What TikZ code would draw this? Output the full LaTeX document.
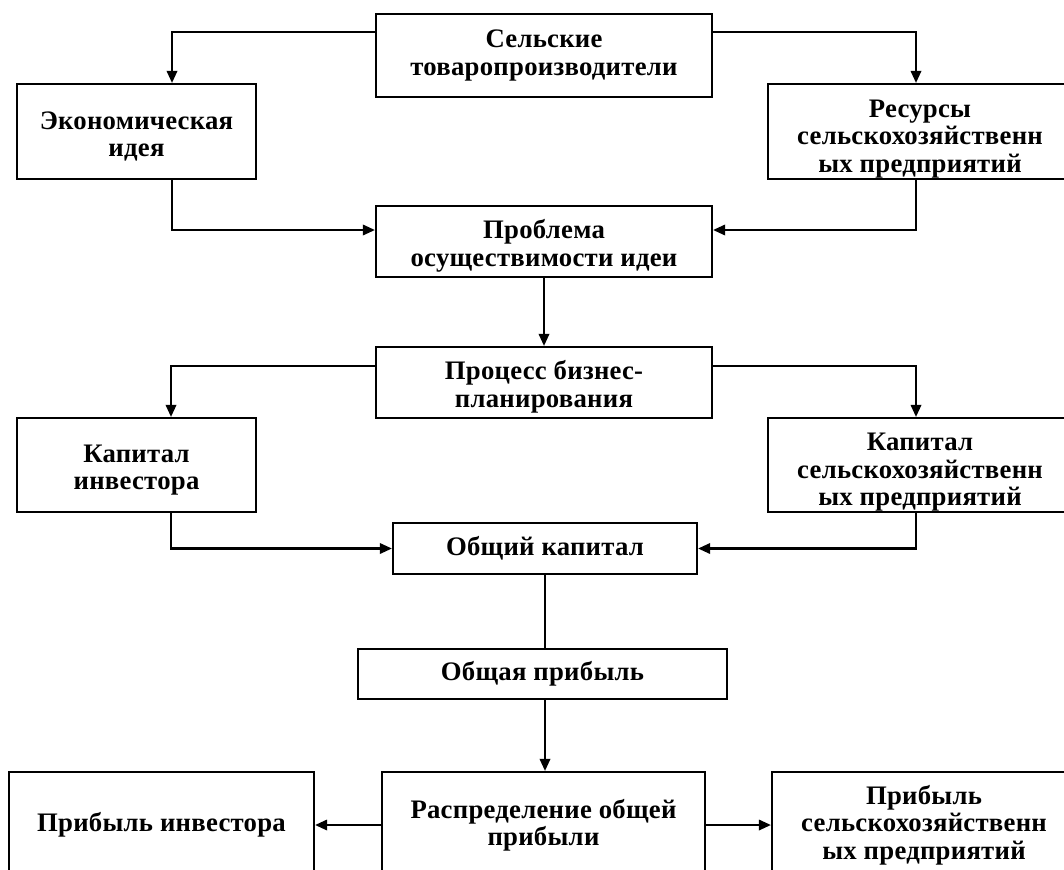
\documentclass[tikz,border=0pt]{standalone}
\usepackage{fontspec}
\setmainfont{Liberation Serif}[LetterSpace=1]
\usepackage{tikz}
\usetikzlibrary{positioning,calc,arrows.meta}

\begin{document}
\begin{tikzpicture}[x=0.025cm, y=-0.025cm,
    box/.style={draw, line width=1.5pt, align=center, inner sep=0pt,
        font=\bfseries\fontsize{19}{19.5}\selectfont},
    twoline/.style={text height=39pt},
    threeline/.style={text height=62pt},
    link/.style={line width=1.5pt},
    arr/.style={link, -{Triangle[length=0.3cm, width=0.26cm]}}]
    \clip (0,0) rectangle (1064,869);

    % first level
    \node[box, minimum width=8.4cm, minimum height=2.075cm] (farmers) at (544,55.5) {Сельские\\товаропроизводители};
    \node[box, twoline, minimum width=5.975cm, minimum height=2.375cm] (idea) at (136.5,131.5) {Экономическая\\идея};
    \node[box, threeline, minimum width=7.6cm, minimum height=2.375cm] (resources) at (920,131.5) {Ресурсы\\сельскохозяйственн\\ых предприятий};
    \node[box, twoline, minimum width=8.4cm, minimum height=1.775cm] (problem) at (544,241.5) {Проблема\\осуществимости идеи};

    % planning and capital
    \node[box, twoline, minimum width=8.4cm, minimum height=1.775cm] (planning) at (544,382.5) {Процесс бизнес-\\планирования};
    \node[box, twoline, minimum width=5.975cm, minimum height=2.35cm] (invcap) at (136.5,465) {Капитал\\инвестора};
    \node[box, threeline, minimum width=7.6cm, minimum height=2.35cm] (farmcap) at (920,465) {Капитал\\сельскохозяйственн\\ых предприятий};
    \node[box, minimum width=7.6cm, minimum height=1.275cm] (totalcap) at (545,548.5) {Общий капитал};

    % profit
    \node[box, minimum width=9.225cm, minimum height=1.25cm] (totalprofit) at (542.5,674) {Общая прибыль};
    \node[box, minimum width=8.075cm, minimum height=2.65cm] (split) at (543.5,825) {Распределение общей\\прибыли};
    \node[box, minimum width=7.625cm, minimum height=2.65cm] (invprofit) at (161.5,825) {Прибыль инвестора};
    \node[box, minimum width=7.6cm, minimum height=2.65cm] (farmprofit) at (924,825) {Прибыль\\сельскохозяйственн\\ых предприятий};

    \draw[arr] ([yshift=0.5875cm]farmers.west) -| ([xshift=0.8875cm]idea.north);
    \draw[arr] ([yshift=0.5875cm]farmers.east) -| ([xshift=-0.1cm]resources.north);
    \draw[arr] ([xshift=0.8875cm]idea.south) |- ([yshift=0.2875cm]problem.west);
    \draw[arr] ([xshift=-0.1cm]resources.south) |- ([yshift=0.2875cm]problem.east);
    \draw[arr] (problem.south) -- (planning.north);

    \draw[arr] ([yshift=0.4125cm]planning.west) -| ([xshift=0.8625cm]invcap.north);
    \draw[arr] ([yshift=0.4125cm]planning.east) -| ([xshift=-0.1cm]farmcap.north);
    \draw[arr] ([xshift=0.8625cm]invcap.south) |- (totalcap.west);
    \draw[arr] ([xshift=-0.1cm]farmcap.south) |- (totalcap.east);

    \draw[link] (totalcap.south) -- (totalcap.south |- totalprofit.north);
    \draw[arr] (totalcap.south |- totalprofit.south) -- (totalcap.south |- split.north);
    \draw[arr] (split.west) -- (invprofit.east);
    \draw[arr] (split.east) -- (farmprofit.west);
\end{tikzpicture}
\end{document}
